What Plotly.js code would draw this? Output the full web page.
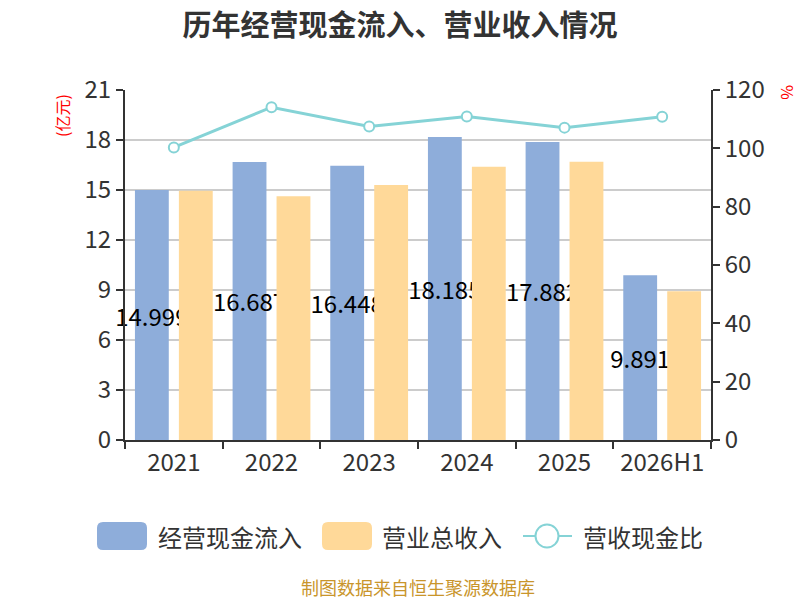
<!DOCTYPE html>
<html>
<head>
<meta charset="utf-8">
<script src="https://cdn.plot.ly/plotly-3.0.1.min.js"></script>
<style>html,body{margin:0;padding:0;background:#fff;}#chart{width:800px;height:600px;}</style>
</head>
<body>
<div id="chart"></div>
<script>
var categories = ['2021', '2022', '2023', '2024', '2025', '2026H1'];
var cashInflow = [14.999, 16.687, 16.448, 18.185, 17.882, 9.891];
var revenue = [14.95, 14.62, 15.30, 16.40, 16.70, 8.93];
var ratio = [100.3, 114.1, 107.5, 110.9, 107.1, 110.8];
var leftTicks = [0, 3, 6, 9, 12, 15, 18, 21];
var rightTicks = [0, 20, 40, 60, 80, 100, 120];
var seriesNames = ['经营现金流入', '营业总收入', '营收现金比'];

var FONT = '"Noto Sans CJK SC", "Noto Sans", sans-serif';
var BLUE = '#8EADDA', ORANGE = '#FFD999', TEAL = '#85D3D6';

// plot area geometry (pixels)
var M = {l: 125, r: 89, t: 90, b: 160};
var PW = 800 - M.l - M.r, PH = 600 - M.t - M.b;
function px(x) { return (x - M.l) / PW; }
function py(y) { return (600 - M.b - y) / PH; }

function roundRect(x0, y0, x1, y1, r) {
  var X = function(v){return px(v).toFixed(5);};
  var Y = function(v){return py(v).toFixed(5);};
  return 'M' + X(x0 + r) + ',' + Y(y0) +
    ' L' + X(x1 - r) + ',' + Y(y0) + ' Q' + X(x1) + ',' + Y(y0) + ' ' + X(x1) + ',' + Y(y0 + r) +
    ' L' + X(x1) + ',' + Y(y1 - r) + ' Q' + X(x1) + ',' + Y(y1) + ' ' + X(x1 - r) + ',' + Y(y1) +
    ' L' + X(x0 + r) + ',' + Y(y1) + ' Q' + X(x0) + ',' + Y(y1) + ' ' + X(x0) + ',' + Y(y1 - r) +
    ' L' + X(x0) + ',' + Y(y0 + r) + ' Q' + X(x0) + ',' + Y(y0) + ' ' + X(x0 + r) + ',' + Y(y0) + ' Z';
}

var traces = [
  {
    type: 'bar', name: seriesNames[0], x: categories, y: cashInflow,
    marker: {color: BLUE},
    text: cashInflow.map(function(v){return String(v);}),
    textposition: 'inside', insidetextanchor: 'middle', constraintext: 'none', textangle: 0,
    cliponaxis: false,
    textfont: {family: FONT, size: 24, color: '#000'},
    hoverinfo: 'none'
  },
  {
    type: 'bar', name: seriesNames[1], x: categories, y: revenue,
    marker: {color: ORANGE},
    hoverinfo: 'none'
  },
  {
    type: 'scatter', mode: 'lines+markers', name: seriesNames[2], x: categories, y: ratio,
    yaxis: 'y2',
    line: {color: TEAL, width: 3},
    marker: {symbol: 'circle', size: 10, color: '#fff', line: {color: TEAL, width: 2}},
    hoverinfo: 'none'
  }
];

var legY = 536;
var shapes = [
  {type: 'path', xref: 'paper', yref: 'paper', path: roundRect(97, 522, 147, 550, 6), fillcolor: BLUE, line: {width: 0}},
  {type: 'path', xref: 'paper', yref: 'paper', path: roundRect(322, 522, 372, 550, 6), fillcolor: ORANGE, line: {width: 0}},
  {type: 'line', xref: 'paper', yref: 'paper', x0: px(523), x1: px(572), y0: py(legY), y1: py(legY), line: {color: TEAL, width: 2}},
  {type: 'circle', xref: 'paper', yref: 'paper', x0: px(535.5), x1: px(558.5), y0: py(legY - 11.5), y1: py(legY + 11.5), fillcolor: '#fff', line: {color: TEAL, width: 2}}
];

var legendTexts = [
  {text: seriesNames[0], x: px(156)},
  {text: seriesNames[1], x: px(380)},
  {text: seriesNames[2], x: px(581)}
].map(function(o){
  return {text: o.text, xref: 'paper', yref: 'paper', x: o.x, y: py(legY), xanchor: 'left', yanchor: 'middle', showarrow: false, font: {family: FONT, size: 24, color: '#333'}};
});

var layout = {
  width: 800, height: 600,
  paper_bgcolor: '#fff', plot_bgcolor: '#fff',
  margin: M,
  font: {family: FONT, color: '#333'},
  title: {text: '历年经营现金流入、营业收入情况', font: {family: FONT, size: 29, color: '#333', weight: 'bold'}, x: 0.5, xanchor: 'center', y: 0.957, yanchor: 'middle'},
  barmode: 'group', bargap: 0.1, bargroupgap: 0.23,
  showlegend: false,
  xaxis: {
    type: 'category', tickson: 'boundaries', ticks: 'outside', ticklen: 7, tickcolor: '#333', tickwidth: 2,
    showline: true, linecolor: '#333', linewidth: 2, showgrid: false,
    tickfont: {family: FONT, size: 24, color: '#333'}
  },
  yaxis: {
    range: [0, 21], tickvals: leftTicks, ticks: 'outside', ticklen: 7, tickcolor: '#333', tickwidth: 2,
    showline: true, linecolor: '#333', linewidth: 2,
    showgrid: true, gridcolor: '#ccc', gridwidth: 2, zeroline: false,
    tickfont: {family: FONT, size: 24, color: '#333'}
  },
  yaxis2: {
    range: [0, 120], tickvals: rightTicks, overlaying: 'y', side: 'right',
    ticks: 'outside', ticklen: 7, tickcolor: '#333', tickwidth: 2,
    showline: true, linecolor: '#333', linewidth: 2, showgrid: false, zeroline: false,
    tickfont: {family: FONT, size: 24, color: '#333'}
  },
  shapes: shapes,
  annotations: [
    {text: '(亿元)', xref: 'paper', yref: 'paper', x: px(62), y: py(116), textangle: -90, showarrow: false, font: {family: FONT, size: 16, color: '#f00'}, xanchor: 'center', yanchor: 'middle'},
    {text: '%', xref: 'paper', yref: 'paper', x: px(788), y: py(92), textangle: 90, showarrow: false, font: {family: FONT, size: 16, color: '#f00'}, xanchor: 'center', yanchor: 'middle'},
    {text: '制图数据来自恒生聚源数据库', xref: 'paper', yref: 'paper', x: 0.5, y: py(587), showarrow: false, font: {family: FONT, size: 18, color: '#C9952B'}, xanchor: 'center', yanchor: 'middle'}
  ].concat(legendTexts)
};

Plotly.newPlot('chart', traces, layout, {displayModeBar: false, staticPlot: true});
</script>
</body>
</html>
